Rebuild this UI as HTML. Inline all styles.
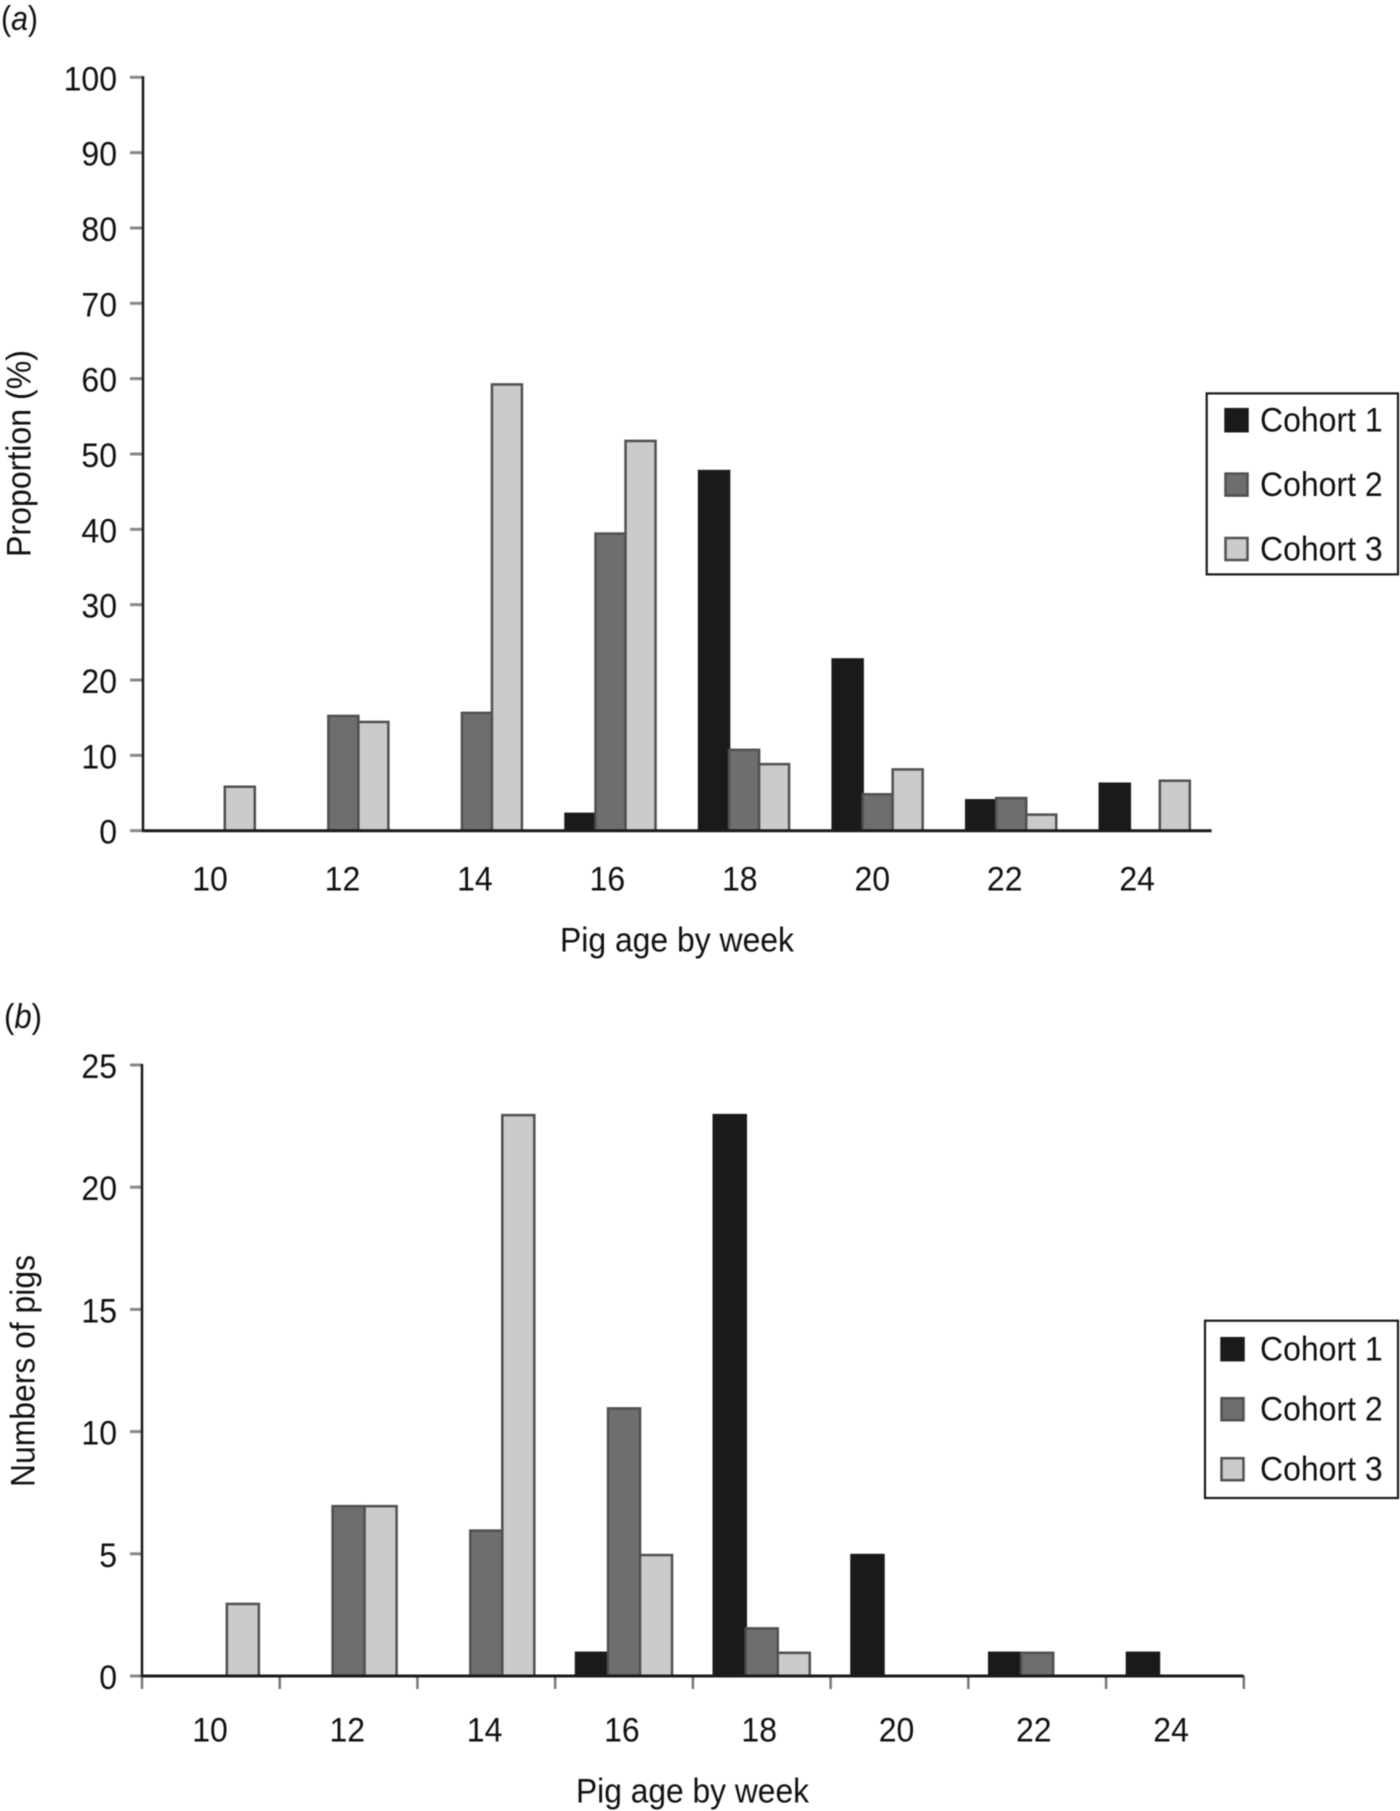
<!DOCTYPE html>
<html lang="en">
<head>
<meta charset="utf-8">
<title>Pig age by week, cohort charts</title>
<style>
  html, body { margin: 0; padding: 0; background: #fff; }
  #figure { display: block; width: 1400px; height: 1811px; filter: blur(0.4px); }
  text { font-family: "Liberation Sans", sans-serif; fill: #111; font-size: 34.5px; }
</style>
</head>
<body>
<svg id="figure" xmlns="http://www.w3.org/2000/svg" width="1400" height="1811" viewBox="0 0 1400 1811">
  <rect x="0" y="0" width="1400" height="1811" fill="#fff"/>
  <g id="panel-a">
    <text x="1" y="30" textLength="37" lengthAdjust="spacingAndGlyphs" style="font-style:italic"><tspan style="font-style:normal">(</tspan>a<tspan style="font-style:normal">)</tspan></text>
    <text transform="translate(30.7 557) rotate(-90)" textLength="207" lengthAdjust="spacingAndGlyphs">Proportion (%)</text>
    <text x="560" y="951.7" textLength="234" lengthAdjust="spacingAndGlyphs">Pig age by week</text>
  </g>
  <g id="panel-b">
    <text x="4" y="1028" textLength="38" lengthAdjust="spacingAndGlyphs" style="font-style:italic"><tspan style="font-style:normal">(</tspan>b<tspan style="font-style:normal">)</tspan></text>
    <text transform="translate(34.7 1487) rotate(-90)" textLength="232" lengthAdjust="spacingAndGlyphs">Numbers of pigs</text>
    <text x="576" y="1802.7" textLength="233" lengthAdjust="spacingAndGlyphs">Pig age by week</text>
  </g>
</svg>
<script>
// Shared categories and series names
const weeks = ['10', '12', '14', '16', '18', '20', '22', '24'];
const cohortNames = ['Cohort 1', 'Cohort 2', 'Cohort 3'];

// Panel (a): proportion (%) by week
const proportionTicks = [0, 10, 20, 30, 40, 50, 60, 70, 80, 90, 100];
const proportionCohort1 = [0, 0, 0, 2.4, 47.9, 22.9, 4.2, 6.4];
const proportionCohort2 = [0, 15.4, 15.8, 39.6, 10.9, 5.0, 4.5, 0];
const proportionCohort3 = [6.0, 14.6, 59.4, 51.9, 9.0, 8.3, 2.3, 6.8];

// Panel (b): numbers of pigs by week
const countTicks = [0, 5, 10, 15, 20, 25];
const countCohort1 = [0, 0, 0, 1, 23, 5, 1, 1];
const countCohort2 = [0, 7, 6, 11, 2, 0, 1, 0];
const countCohort3 = [3, 7, 23, 5, 1, 0, 0, 0];

const SVG_NS = 'http://www.w3.org/2000/svg';
const fills = ['#1a1a1a', '#6e6e6e', '#cbcbcb'];
const strokes = ['#1a1a1a', '#505050', '#505050'];
const DIGIT_W = 17.8;

function node(parent, tag, attrs) {
  const el = document.createElementNS(SVG_NS, tag);
  for (const key in attrs) el.setAttribute(key, attrs[key]);
  parent.appendChild(el);
  return el;
}

function drawChart(cfg) {
  const root = document.getElementById(cfg.rootId);
  const yScale = v => cfg.y0 + (cfg.yMax - cfg.y0) * (v / cfg.yTop);
  const step = (cfg.xEnd - cfg.xStart) / weeks.length;
  const center = i => cfg.xStart + step * (i + 0.5);
  const labelX = i => cfg.labelStart + cfg.labelStep * i;

  // Bars
  cfg.series.forEach((values, s) => {
    values.forEach((v, i) => {
      if (!(v > 0)) return;
      const x = center(i) + (s - 1) * cfg.barW - cfg.barW / 2;
      const top = yScale(v);
      const bar = node(root, 'rect', {
        x: x, y: top + 1.25, width: cfg.barW, height: Math.max(cfg.y0 - top - 1.25, 0),
        fill: fills[s], stroke: strokes[s], 'stroke-width': 2.5
      });
      
      
    });
  });

  // Y ticks and labels
  cfg.ticks.forEach(t => {
    const y = yScale(t);
    const tick = node(root, 'line', { x1: 130, x2: cfg.xStart, y1: y, y2: y, stroke: '#888', 'stroke-width': 3 });
    
    
    const str = String(t);
    const label = node(root, 'text', {
      x: 117 - str.length * DIGIT_W, y: y + 13,
      textLength: str.length * DIGIT_W, lengthAdjust: 'spacingAndGlyphs'
    });
    label.textContent = str;
    
    
  });

  // Optional category separators on the x axis
  if (cfg.xTicks) {
    for (let i = 0; i <= weeks.length; i++) {
      const x = cfg.xStart + step * i;
      const tick = node(root, 'line', { x1: x, x2: x, y1: cfg.y0, y2: cfg.y0 + 13, stroke: '#777', 'stroke-width': 2.5 });
      
      
    }
  }

  // X labels
  weeks.forEach((w, i) => {
    const len = w.length * DIGIT_W;
    const label = node(root, 'text', {
      x: labelX(i) - len / 2, y: cfg.labelY,
      textLength: len, lengthAdjust: 'spacingAndGlyphs'
    });
    label.textContent = w;
    
    
  });

  // Axis lines
  const yAxis = node(root, 'line', { x1: cfg.xStart, x2: cfg.xStart, y1: cfg.yMax - 1, y2: cfg.y0 + 1, stroke: '#1a1a1a', 'stroke-width': 2.5 });
  
  
  const xAxis = node(root, 'line', { x1: cfg.xStart, x2: cfg.xEnd, y1: cfg.y0, y2: cfg.y0, stroke: '#1a1a1a', 'stroke-width': 3 });
  
  

  // Legend
  const lg = cfg.legend;
  const legend = node(root, 'g', {});
  
  
  node(legend, 'rect', { x: lg.x, y: lg.y, width: lg.w, height: lg.h, fill: '#fff', stroke: '#1a1a1a', 'stroke-width': 2.2 });
  cohortNames.forEach((name, s) => {
    const base = lg.base + lg.gap * s;
    const swatch = node(legend, 'rect', {
      x: lg.swatchX + 1, y: base - 22.5, width: 22, height: 22,
      fill: fills[s], stroke: strokes[s], 'stroke-width': 2.5
    });
    
    
    const label = node(legend, 'text', { x: lg.textX, y: base, textLength: 122.7, lengthAdjust: 'spacingAndGlyphs' });
    label.textContent = name;
    
    
  });
}

drawChart({
  rootId: 'panel-a',
  series: [proportionCohort1, proportionCohort2, proportionCohort3],
  ticks: proportionTicks,
  yTop: 100, y0: 830.7, yMax: 77.3,
  xStart: 143, xEnd: 1211.6, barW: 30,
  xTicks: false,
  labelStart: 210, labelStep: 132.45, labelY: 890.7,
  legend: { x: 1206.7, y: 393.4, w: 191.3, h: 181, swatchX: 1224.5, textX: 1260, base: 431.7, gap: 64.4 }
});

drawChart({
  rootId: 'panel-b',
  series: [countCohort1, countCohort2, countCohort3],
  ticks: countTicks,
  yTop: 25, y0: 1676, yMax: 1065,
  xStart: 142, xEnd: 1243.8, barW: 32,
  xTicks: true,
  labelStart: 210, labelStep: 137.3, labelY: 1741.7,
  legend: { x: 1205, y: 1320.7, w: 193, h: 177.3, swatchX: 1220.5, textX: 1260, base: 1360.7, gap: 60 }
});
</script>
</body>
</html>
